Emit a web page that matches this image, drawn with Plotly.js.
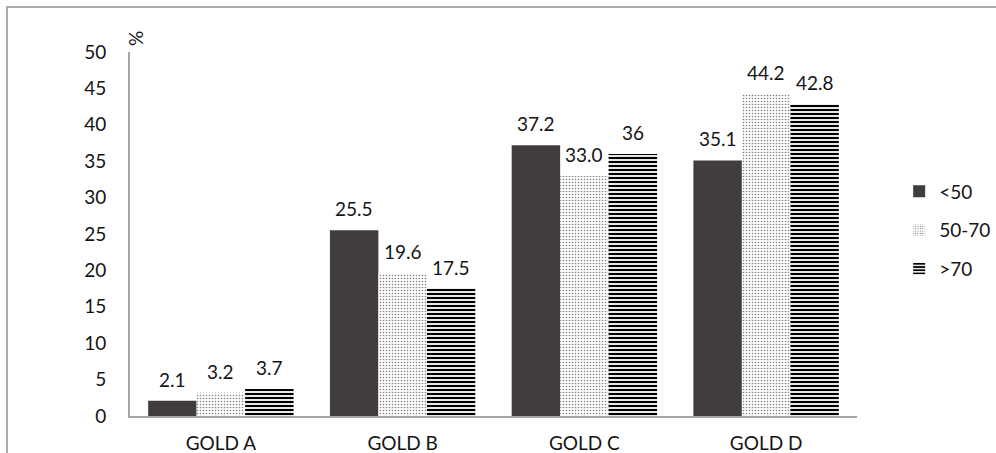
<!DOCTYPE html>
<html>
<head>
<meta charset="utf-8">
<script src="https://cdn.plot.ly/plotly-3.0.1.min.js"></script>
<style>
  html, body { margin: 0; padding: 0; background: #fff; }
  #wrap { position: relative; width: 996px; height: 453px; }
  #chart { width: 996px; height: 453px; }
  #frame { position: absolute; left: 6px; top: 6px; width: 1000px; height: 460px;
           border-top: 2px solid #ababab; border-left: 2px solid #ababab;
           pointer-events: none; box-sizing: border-box; }
</style>
</head>
<body>
<div id="wrap">
  <div id="chart"></div>
  <div id="frame"></div>
</div>
<script>
// Share of patients per GOLD stage, by age group
const categories = ['GOLD A', 'GOLD B', 'GOLD C', 'GOLD D'];
const seriesNames = ['<50', '50-70', '>70'];
const under50 = [2.1, 25.5, 37.2, 35.1];
const from50to70 = [3.2, 19.6, 33.0, 44.2];
const over70 = [3.7, 17.5, 36, 42.8];
const labelsUnder50 = ['2.1', '25.5', '37.2', '35.1'];
const labelsFrom50to70 = ['3.2', '19.6', '33.0', '44.2'];
const labelsOver70 = ['3.7', '17.5', '36', '42.8'];
const yTicks = [0, 5, 10, 15, 20, 25, 30, 35, 40, 45, 50];

const FONT = 'Lato, "Open Sans", sans-serif';
const FS = 19;
const TXT = '#141414';
const values = [under50, from50to70, over70];
const labels = [labelsUnder50, labelsFrom50to70, labelsOver70];

const markers = [
  { color: '#403d3c', line: { width: 0 } },
  { color: '#ffffff', line: { width: 0 },
    pattern: { shape: '.', fgcolor: '#7e7e7e', bgcolor: '#ffffff', size: 3, solidity: 0.22 } },
  { color: '#ffffff', line: { width: 0 },
    pattern: { shape: '-', fgcolor: '#000000', bgcolor: '#ffffff', size: 4, solidity: 0.55 } }
];

const traces = seriesNames.map((name, i) => ({
  type: 'bar',
  name: name,
  legendgroup: name,
  x: categories,
  y: values[i],
  marker: markers[i],
  hoverinfo: 'x+y+name'
}));

// Value labels above each bar, placed at the bar's own data position
const bargap = 0.2;
const barW = (1 - bargap) / seriesNames.length;
const annotations = [];
values.forEach((vals, i) => {
  vals.forEach((v, j) => {
    annotations.push({
      x: j + (i - 1) * barW, xref: 'x',
      y: v, yref: 'y',
      text: labels[i][j],
      showarrow: false,
      yanchor: 'bottom',
      yshift: 8,
      font: { family: FONT, size: FS, color: TXT }
    });
  });
});
annotations.push({
  x: 0, xref: 'paper', xanchor: 'center', xshift: 5,
  y: 1, yref: 'paper', yanchor: 'middle', yshift: 13,
  text: '%', textangle: -90,
  showarrow: false,
  font: { family: FONT, size: FS, color: TXT }
});

const layout = {
  width: 996, height: 453,
  margin: { l: 130, r: 139, t: 52, b: 37, autoexpand: false },
  paper_bgcolor: '#ffffff',
  plot_bgcolor: '#ffffff',
  barmode: 'group',
  bargap: bargap,
  bargroupgap: 0,
  font: { family: FONT, size: FS, color: TXT },
  xaxis: {
    type: 'category',
    showline: true, linecolor: '#a6a6a6', linewidth: 2,
    showgrid: false, ticks: '', zeroline: false,
    ticklabelstandoff: 9,
    tickfont: { family: FONT, size: FS, color: TXT }
  },
  yaxis: {
    range: [0, 50],
    tickvals: yTicks,
    showline: true, linecolor: '#a6a6a6', linewidth: 2,
    showgrid: false, ticks: '', zeroline: false,
    ticklabelstandoff: 18,
    tickfont: { family: FONT, size: FS, color: TXT }
  },
  legend: {
    x: 1.058, xanchor: 'left', xref: 'paper',
    y: 0.51, yanchor: 'middle',
    font: { family: FONT, size: FS, color: TXT },
    itemwidth: 30,
    tracegroupgap: 11,
    traceorder: 'grouped'
  },
  annotations: annotations,
  showlegend: true
};

Plotly.newPlot('chart', traces, layout, { displayModeBar: false, staticPlot: true });
</script>
</body>
</html>
